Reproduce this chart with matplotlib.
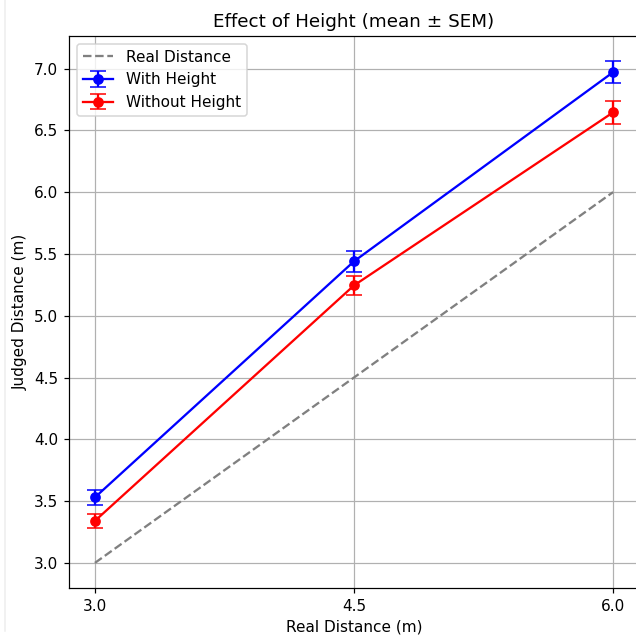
import matplotlib
matplotlib.use("Agg")
import matplotlib.pyplot as plt
from matplotlib.lines import Line2D

real = [3.0, 4.5, 6.0]
with_height = [3.53, 5.44, 6.97]
with_height_sem = [0.06, 0.085, 0.09]
without_height = [3.34, 5.245, 6.645]
without_height_sem = [0.055, 0.08, 0.09]

W, H, DPI = 636, 637, 110
fig = plt.figure(figsize=(W / DPI, H / DPI), dpi=DPI)
# axes runs a little past the right edge, as in the cropped original
ax = fig.add_axes([69 / W, (H - 588) / H, 570 / W, 552 / H])

ax.plot(real, real, '--', color='gray', label='Real Distance')
ax.errorbar(real, with_height, yerr=with_height_sem, fmt='-o', color='blue',
            capsize=5, label='With Height')
ax.errorbar(real, without_height, yerr=without_height_sem, fmt='-o', color='red',
            capsize=5, label='Without Height')

ax.set_xticks(real)
ax.set_xlabel('Real Distance (m)')
ax.set_ylabel('Judged Distance (m)')
ax.set_title('Effect of Height (mean ± SEM)')
ax.grid(True)
ax.legend(loc='upper left')

# faint border line at the left edge
fig.add_artist(Line2D([5 / W, 5 / W], [0.01, 1], color='#eeeeee', lw=1))

fig.savefig('out.png', dpi=DPI)
